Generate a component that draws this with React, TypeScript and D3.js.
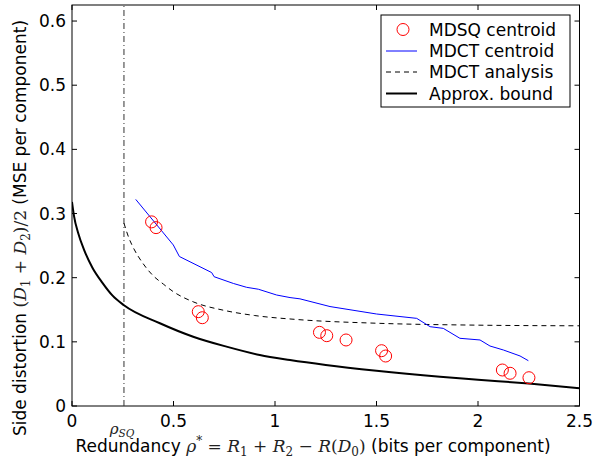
import React from "react";
import * as d3 from "d3";

const xTicks = [0, 0.5, 1, 1.5, 2, 2.5];
const yTicks = [0, 0.1, 0.2, 0.3, 0.4, 0.5, 0.6];
const rhoSQ = 0.256;

// MDSQ centroid (red circles)
const mdsqRho = [0.392, 0.414, 0.622, 0.642, 1.219, 1.255, 1.35, 1.525, 1.545, 2.12, 2.158, 2.251];
const mdsqD = [0.287, 0.278, 0.147, 0.1376, 0.1148, 0.1096, 0.1029, 0.0862, 0.0779, 0.0561, 0.051, 0.0441];

// MDCT centroid (blue)
const mdctCRho = [0.314, 0.499, 0.529, 0.688, 0.7, 0.795, 0.86, 0.918, 1.008, 1.074, 1.123, 1.271, 1.5, 1.698, 1.764, 1.829, 1.911, 2.01, 2.059, 2.125, 2.207, 2.248];
const mdctCD = [0.322, 0.251, 0.233, 0.208, 0.2015, 0.191, 0.185, 0.182, 0.173, 0.169, 0.167, 0.155, 0.1434, 0.1366, 0.1236, 0.121, 0.1055, 0.1029, 0.0935, 0.0873, 0.078, 0.0706];

// MDCT analysis (dashed)
const mdctARho = [0.256, 0.28, 0.3, 0.35, 0.4, 0.45, 0.5, 0.6, 0.75, 0.9, 1.1, 1.5, 2.0, 2.5];
const mdctAD = [0.285, 0.262, 0.248, 0.222, 0.203, 0.19, 0.178, 0.162, 0.149, 0.141, 0.135, 0.129, 0.126, 0.125];

// Approx. bound (solid black)
const boundRho = [0, 0.01, 0.03, 0.06, 0.1, 0.15, 0.2, 0.256, 0.433, 0.597, 0.761, 0.925, 1.074, 1.25, 1.5, 1.813, 2.0, 2.25, 2.5];
const boundD = [0.318, 0.296, 0.27, 0.243, 0.216, 0.192, 0.172, 0.157, 0.129, 0.108, 0.0925, 0.0795, 0.0717, 0.064, 0.055, 0.0457, 0.041, 0.035, 0.0275];

const legendLabels = ["MDSQ centroid", "MDCT centroid", "MDCT analysis", "Approx. bound"];

const W = 594, H = 460;
const L = 72, R = 579.5, T = 5, B = 406;
const FONT = "'DejaVu Sans', Verdana, sans-serif";
const MATH = "'DejaVu Serif', 'Liberation Serif', serif";

export default function App() {
  const x = d3.scaleLinear().domain([0, 2.5]).range([L, R]);
  const y = d3.scaleLinear().domain([0, 0.625]).range([B, T]);
  const line = (xs: number[], ys: number[], curve: any = d3.curveLinear) =>
    d3.line<number>().x((_, i) => x(xs[i])).y((_, i) => y(ys[i])).curve(curve)(xs) || "";

  const legX = 381, legY = 15, legW = 189, legH = 92;
  const rowY = [29.5, 51, 72, 93.5];

  return (
    <svg width={W} height={H} style={{ position: "absolute", left: 0, top: 0, background: "#fff" }}>
      <rect x={0} y={0} width={W} height={H} fill="#fff" />
      <defs>
        <clipPath id="plotclip"><rect x={L} y={T} width={R - L} height={B - T} /></clipPath>
      </defs>
      {/* frame */}
      <rect x={L} y={T} width={R - L} height={B - T} fill="none" stroke="#000" strokeWidth={1} />
      {/* ticks */}
      {xTicks.map((t) => (
        <g key={"xt" + t}>
          <line x1={x(t)} x2={x(t)} y1={B} y2={B - 5} stroke="#000" />
          <line x1={x(t)} x2={x(t)} y1={T} y2={T + 5} stroke="#000" />
          <text x={x(t)} y={427} textAnchor="middle" fontFamily={FONT} fontSize={17}>{String(t)}</text>
        </g>
      ))}
      {yTicks.map((t) => (
        <g key={"yt" + t}>
          <line x1={L} x2={L + 5} y1={y(t)} y2={y(t)} stroke="#000" />
          <line x1={R} x2={R - 5} y1={y(t)} y2={y(t)} stroke="#000" />
          <text x={66} y={y(t) + 6} textAnchor="end" fontFamily={FONT} fontSize={17}>{String(t)}</text>
        </g>
      ))}
      <g clipPath="url(#plotclip)">
        {/* rho_SQ line */}
        <line x1={x(rhoSQ)} x2={x(rhoSQ)} y1={B} y2={T} stroke="#333" strokeWidth={1} strokeDasharray="6,3,1,3" />
        <path d={line(boundRho, boundD, d3.curveMonotoneX)} fill="none" stroke="#000" strokeWidth={2} />
        <path d={line(mdctARho, mdctAD, d3.curveMonotoneX)} fill="none" stroke="#000" strokeWidth={1} strokeDasharray="5,4" />
        <path d={line(mdctCRho, mdctCD)} fill="none" stroke="#0000ff" strokeWidth={1} />
        {mdsqRho.map((r, i) => (
          <circle key={"c" + i} cx={x(r)} cy={y(mdsqD[i])} r={6} fill="none" stroke="#ff0000" strokeWidth={1} />
        ))}
      </g>
      {/* rho_SQ label */}
      <text x={x(rhoSQ) - 2} y={434} textAnchor="middle" fontFamily={MATH} fontSize={15} fill="#222">
        <tspan fontStyle="italic">ρ</tspan>
        <tspan dy={2.5} fontSize={10.5} fontStyle="italic">SQ</tspan>
      </text>
      {/* x label */}
      <text x={313} y={452} textAnchor="middle" fontFamily={FONT} fontSize={17}>
        <tspan>Redundancy </tspan>
        <tspan fontFamily={MATH} fontStyle="italic" fill="#222">ρ</tspan>
        <tspan fontFamily={MATH} fontSize={12} dy={-7} fill="#222">*</tspan>
        <tspan fontFamily={MATH} dy={7} fill="#222"> = </tspan>
        <tspan fontFamily={MATH} fontStyle="italic" fill="#222">R</tspan>
        <tspan fontFamily={MATH} fontSize={12} dy={3.5} fill="#222">1</tspan>
        <tspan fontFamily={MATH} dy={-3.5} fill="#222"> + </tspan>
        <tspan fontFamily={MATH} fontStyle="italic" fill="#222">R</tspan>
        <tspan fontFamily={MATH} fontSize={12} dy={3.5} fill="#222">2</tspan>
        <tspan fontFamily={MATH} dy={-3.5} fill="#222"> − </tspan>
        <tspan fontFamily={MATH} fontStyle="italic" fill="#222">R</tspan>
        <tspan fontFamily={MATH} fill="#222">(</tspan>
        <tspan fontFamily={MATH} fontStyle="italic" fill="#222">D</tspan>
        <tspan fontFamily={MATH} fontSize={12} dy={3.5} fill="#222">0</tspan>
        <tspan fontFamily={MATH} dy={-3.5} fill="#222">)</tspan>
        <tspan> (bits per component)</tspan>
      </text>
      {/* y label */}
      <text transform={`translate(26,228) rotate(-90)`} textAnchor="middle" fontFamily={FONT} fontSize={17}>
        <tspan>Side distortion </tspan>
        <tspan fontFamily={MATH} fill="#222">(</tspan>
        <tspan fontFamily={MATH} fontStyle="italic" fill="#222">D</tspan>
        <tspan fontFamily={MATH} fontSize={12} dy={4} fill="#222">1</tspan>
        <tspan fontFamily={MATH} dy={-4} fill="#222"> + </tspan>
        <tspan fontFamily={MATH} fontStyle="italic" fill="#222">D</tspan>
        <tspan fontFamily={MATH} fontSize={12} dy={4} fill="#222">2</tspan>
        <tspan fontFamily={MATH} dy={-4} fill="#222">)/2</tspan>
        <tspan> (MSE per component)</tspan>
      </text>
      {/* legend */}
      <rect x={legX} y={legY} width={legW} height={legH} fill="#fff" stroke="#000" strokeWidth={1} />
      {legendLabels.map((lab, i) => (
        <g key={lab}>
          {i === 0 && <circle cx={403} cy={rowY[i]} r={6} fill="none" stroke="#ff0000" />}
          {i === 1 && <line x1={386} x2={417} y1={rowY[i]} y2={rowY[i]} stroke="#0000ff" />}
          {i === 2 && <line x1={386} x2={417} y1={rowY[i]} y2={rowY[i]} stroke="#000" strokeDasharray="5,4" />}
          {i === 3 && <line x1={386} x2={417} y1={rowY[i]} y2={rowY[i]} stroke="#000" strokeWidth={2} />}
          <text x={429} y={rowY[i] + 6} fontFamily={FONT} fontSize={17}>{lab}</text>
        </g>
      ))}
    </svg>
  );
}
